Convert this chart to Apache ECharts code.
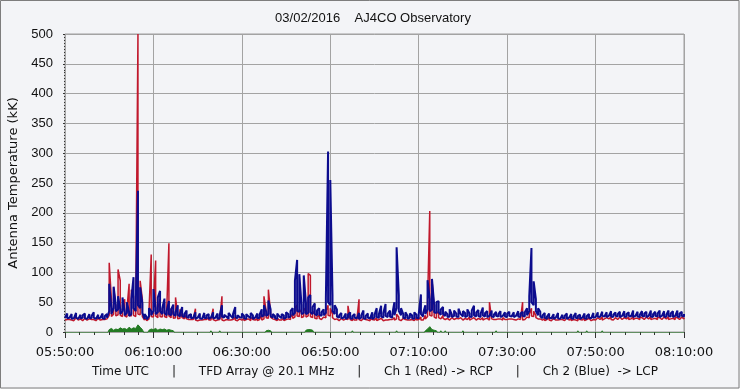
<!DOCTYPE html>
<html><head><meta charset="utf-8">
<script src="https://cdn.jsdelivr.net/npm/echarts@6/dist/echarts.min.js"></script>
<style>html,body{margin:0;padding:0;background:#f3f4f7}#c{width:740px;height:389px}</style>
</head><body><div id="c"></div>
<script>
const titleText = '03/02/2016    AJ4CO Observatory';
const footerText = 'Time UTC      |      TFD Array @ 20.1 MHz      |      Ch 1 (Red) -> RCP      |      Ch 2 (Blue)  -> LCP';
const yAxisName = 'Antenna Temperature (kK)';
const xTickLabels = ['05:50:00','06:10:00','06:30:00','06:50:00','07:10:00','07:30:00','07:50:00','08:10:00'];
const xMinutesSpan = 140;      // 05:50 -> 08:10
const sampleStepMin = 0.5;     // one sample bin every 30 s (max and min of each bin)
const yMax = 500, yStep = 50;

// Ch 1 (Red) -> RCP : bin maxima
const ch1Red = [
22,21,23,20,22,24,21,22,20,23, 21,22,24,21,20,23,22,21,23,22,
116,55,75,40,105,86,45,55,38,81, 71,60,45,500,86,55,24,19,35,130,
45,120,40,55,38,50,35,149,40,30, 58,28,38,24,30,22,24,
21,23,39,22,20,23,21,22,24,21, 39,22,20,23,60,22,21,23,20,22,
24,21,22,20,23,21,22,24,21,20, 23,22,30,60,35,71,32,22,21,23, 20,22,24,21,
22,25,30,40,45,38,32,40,35,98, 95,35,30,26,28,23,25,35,45,40, 30,24,
22,21,23,20,22,44,21,23,20,22, 55,21,23,22,20,23,21,22,24,21,
23,22,20,23,21,22,24,30,25,21, 23,22,20,23,21,22,24,21,25,
22,28,50,203,88,40,30,35,25,28,23,
23,22,24,21,23,22,24,21,23,22, 25,22,24,21,23,22,24,21,23,50,
22,24,21,23,22,24,21,23,22,24, 21,23,22,24,50,22,
25,30,40,35,28,24,22,
21,23,22,24,21,23,22,20,23,21, 22,24,21,23,22,20,23,21,22,24,
21,23,22,21,23,24,22,25,23,24, 22,25,23,24,22,25,23,24,22,25,
23,26,24,23,25,24,22,25,23,26, 24,23,25,24,22,25,23,26,24,23,
25,24,22,25,24
];
// Ch 1 (Red) : bin minima
const ch1RedLow = [
20,19,21,20,19,21,20,20,19,21, 20,19,21,20,19,21,20,19,21,20,
28,26,30,27,29,28,26,27,25,28, 27,28,26,30,29,26,20,17,22,26,
25,27,24,26,25,26,24,27,24,23, 24,22,23,21,22,20,21,
20,21,20,19,21,20,19,21,20,20, 21,19,20,21,20,19,21,20,19,21,
20,19,21,20,19,21,20,19,21,20, 19,21,20,22,24,23,25,22,20,19, 21,20,19,21,
20,21,23,25,27,26,24,26,25,27, 26,24,23,22,23,21,22,24,28,27, 24,21,
20,19,21,20,19,21,20,19,21,20, 21,19,20,21,20,19,21,20,19,21,
20,19,21,20,19,21,20,22,21,19, 20,21,19,20,21,19,20,21,20,
20,22,26,28,27,25,23,24,22,23,21,
21,20,22,21,20,22,21,20,22,21, 20,22,21,20,22,21,20,22,21,20,
22,21,20,22,21,20,22,21,20,22, 21,20,22,21,20,21,
22,24,27,26,24,22,21,
20,19,21,20,19,21,20,19,21,20, 19,21,20,19,21,20,19,21,20,19,
21,20,19,21,20,22,21,20,22,21, 22,21,20,22,21,22,21,23,22,21,
22,21,23,22,21,22,21,23,22,21, 22,23,21,22,21,23,22,21,22,23,
21,22,21,23,22
];
// Ch 2 (Blue) -> LCP : bin maxima
const ch2Blue = [
27,31,25,30,26,32,24,29,28,31, 25,30,27,33,25,29,26,31,27,30,
81,40,76,45,60,38,58,35,50,33, 55,92,45,237,75,48,30,25,40,35,
72,40,58,69,40,56,35,52,38,46, 33,45,31,42,30,36,28,
30,26,33,27,31,25,32,28,30,26, 33,27,31,28,45,29,26,32,27,30,
42,28,25,31,27,30,26,32,28,25, 31,29,38,45,34,53,38,30,27,31, 26,30,28,33,
30,35,40,86,121,97,45,95,48,58, 62,42,48,36,40,33,38,56,303,255, 62,45,
38,28,32,26,31,29,33,27,30,26, 32,28,36,27,31,26,33,29,40,30,
44,32,47,31,36,29,50,142,62,40, 30,33,27,31,28,33,29,30,63,
32,45,87,55,89,45,50,52,38,42,34,
30,38,29,36,31,39,30,35,32,38, 31,36,44,33,37,31,41,32,35,30,
36,29,34,30,35,29,33,31,34,29, 33,30,35,31,34,33,
40,60,141,85,55,40,34,
28,32,26,31,25,30,27,32,25,29, 27,31,24,30,26,32,27,29,25,31,
27,30,26,32,28,33,28,34,29,33, 28,35,29,33,30,34,28,35,30,33,
29,36,30,34,29,35,31,34,29,36, 30,34,31,36,30,35,29,36,31,35,
30,36,31,34,30
];
// Ch 2 (Blue) : bin minima
const ch2BlueLow = [
24,23,24,22,23,24,22,23,24,23, 22,24,23,24,22,23,24,23,22,24,
35,30,40,35,38,30,35,28,32,27, 30,40,35,45,40,32,22,21,26,28,
35,30,33,35,30,32,28,30,28,30, 27,29,26,27,25,25,24,
23,24,22,24,23,22,24,23,22,24, 23,24,22,23,26,24,23,22,24,23,
25,23,22,24,23,22,24,23,22,24, 23,24,26,28,27,30,27,24,23,22, 24,23,22,24,
24,26,28,32,35,34,30,32,30,32, 33,30,30,28,29,27,28,32,50,45, 35,30,
26,24,23,24,22,24,23,22,24,23, 22,24,23,22,24,23,22,24,25,24,
26,24,27,25,26,24,28,40,35,28, 24,23,22,24,23,22,24,23,30,
26,30,38,35,37,33,32,33,29,30,27,
25,26,25,27,26,25,27,26,25,27, 26,25,28,26,27,25,28,26,25,27,
26,25,27,26,25,27,26,25,27,26, 25,27,26,25,27,26,
28,35,50,45,35,28,26,
23,24,22,24,23,22,24,23,22,24, 23,22,24,23,22,24,23,22,24,23,
22,24,23,24,25,26,25,27,26,25, 27,26,25,27,26,25,27,26,25,27,
26,25,27,26,25,27,26,25,27,26, 25,27,26,25,27,26,25,27,26,25,
27,26,25,27,26
];
// third trace (green), mostly below the visible range
const ch3Green = [
-4,-4,-4,-4,-4,-4,-4,-4,-4,-4, -4,-4,-4,-4,-4,-4,-4,-4,-4,-4,
4,6,3,5,4,7,5,6,4,8, 5,7,6,12,8,4,-4,-4,3,5,
4,6,3,5,4,5,3,4,3,2, -4,-4,-4,-4,-4,-4,-4,-4,-4,-4,
-4,-4,-4,-4,-4,-4,2,-4,-4,-4, 2,-4,-4,-4,-4,-4,-4,-4,-4,-4,
-4,-4,-4,-4,-4,-4,-4,-4,-4,-4, -4,2,3,2,-4,-4,-4,-4,-4,-4,
-4,-4,-4,-4,-4,-4,-4,-4,-4,3, 4,4,3,-4,-4,-4,-4,-4,-4,-4,
-4,-4,-4,-4,-4,-4,-4,-4,-4,-4, 2,-4,-4,-4,-4,-4,-4,-4,-4,-4,
-4,-4,-4,-4,-4,-4,-4,-4,-4,-4, 2,-4,-4,-4,-4,-4,-4,-4,-4,-4,
-4,-4,-4,2,5,9,4,3,2,-4, 2,-4,2,-4,-4,-4,-4,-4,-4,-4,
2,-4,-4,-4,-4,-4,-4,-4,-4,-4, -4,-4,-4,-4,-4,2,-4,-4,-4,-4,
-4,-4,-4,-4,-4,-4,-4,-4,-4,-4, -4,-4,-4,-4,-4,-4,-4,-4,-4,-4,
-4,-4,-4,-4,-4,-4,-4,-4,-4,-4, -4,-4,2,-4,-4,-4,2,-4,-4,-4,
-4,-4,-4,2,-4,-4,-4,-4,-4,-4, -4,-4,-4,-4,-4,-4,-4,-4,-4,-4,
-4,-4,-4,-4,-4,-4,-4,-4,-4,-4, -4,-4,-4,-4,-4,-4,-4,-4,-4,-4,
-4
];

const RED = '#c0182c', BLUE = '#0c0c8e', GREEN = '#237a23';
// min/max envelope: each 30-s bin is drawn as a vertical stroke from its minimum to its maximum
function envelope(hi, lo) {
  const out = [];
  hi.forEach((h, i) => {
    const t = i * sampleStepMin, l = lo[i];
    if (i % 2 === 0) { out.push([t, l], [t, h]); } else { out.push([t, h], [t, l]); }
  });
  return out;
}
const toPairs = arr => arr.map((v, i) => [i * sampleStepMin, v]);
const FONT = 'Liberation Sans, Arial, sans-serif';
const FONT2 = 'DejaVu Sans, sans-serif';
const chart = echarts.init(document.getElementById('c'), null, {renderer: 'canvas'});
chart.setOption({
  backgroundColor: '#f3f4f7',
  animation: false,
  grid: {left: 65, right: 56, top: 34, bottom: 57, show: true, borderColor: '#9f9f9f', borderWidth: 1,
         backgroundColor: '#f3f4f7', outerBoundsMode: 'none', containLabel: false},
  xAxis: {
    type: 'value', min: 0, max: xMinutesSpan, interval: 20, offset: 4,
    axisLine: {show: false},
    axisTick: {show: true, length: 6, lineStyle: {color: '#333', width: 1}},
    minorTick: {show: true, splitNumber: 6, length: 3, lineStyle: {color: '#333', width: 1}},
    axisLabel: {margin: 10, color: '#111', fontSize: 13, fontFamily: FONT2,
      formatter: v => xTickLabels[Math.round(v / 20)] || ''},
    splitLine: {show: true, lineStyle: {color: '#a3a3a3', width: 1}},
    minorSplitLine: {show: false}
  },
  yAxis: {
    type: 'value', min: 0, max: yMax, interval: yStep, offset: 6,
    name: yAxisName, nameLocation: 'middle', nameGap: 34,
    nameTextStyle: {color: '#111', fontSize: 13, fontFamily: FONT2},
    axisLine: {show: false},
    axisTick: {show: true, length: 2, lineStyle: {color: '#333', width: 1}},
    minorTick: {show: true, splitNumber: 10, length: 1, lineStyle: {color: '#333', width: 1}},
    axisLabel: {margin: 6, color: '#111', fontSize: 13, fontFamily: FONT},
    splitLine: {show: true, lineStyle: {color: '#a3a3a3', width: 1}}
  },
  series: [
    {name: 'Ch 1 (Red)', type: 'line', data: envelope(ch1Red, ch1RedLow), showSymbol: false, symbol: 'none',
     lineStyle: {color: RED, width: 1.5, join: 'bevel'}, itemStyle: {color: RED}, clip: true, z: 2, emphasis: {disabled: true}},
    {name: 'Ch 2 (Blue)', type: 'line', data: envelope(ch2Blue, ch2BlueLow), showSymbol: false, symbol: 'none',
     lineStyle: {color: BLUE, width: 2, join: 'bevel'}, itemStyle: {color: BLUE}, clip: true, z: 3, emphasis: {disabled: true}},
    {name: 'Ch 3', type: 'line', data: toPairs(ch3Green), showSymbol: false, symbol: 'none',
     lineStyle: {color: GREEN, width: 1}, itemStyle: {color: GREEN},
     areaStyle: {color: GREEN, opacity: 1, origin: 0},
     clip: true, z: 4, emphasis: {disabled: true}}
  ],
  graphic: [
    {type: 'rect', shape: {x: 0.5, y: 0.5, width: 738.5, height: 387.5}, style: {fill: null, stroke: '#7d7d7d', lineWidth: 1}, silent: true, z: 100},
    {type: 'text', x: 373, y: 18, style: {text: titleText, font: '13px ' + FONT, fill: '#111', textAlign: 'center', textVerticalAlign: 'middle'}},
    {type: 'text', x: 375, y: 372, style: {text: footerText, font: '12px ' + FONT2, fill: '#111', textAlign: 'center', textVerticalAlign: 'middle'}}
  ]
});
</script></body></html>
